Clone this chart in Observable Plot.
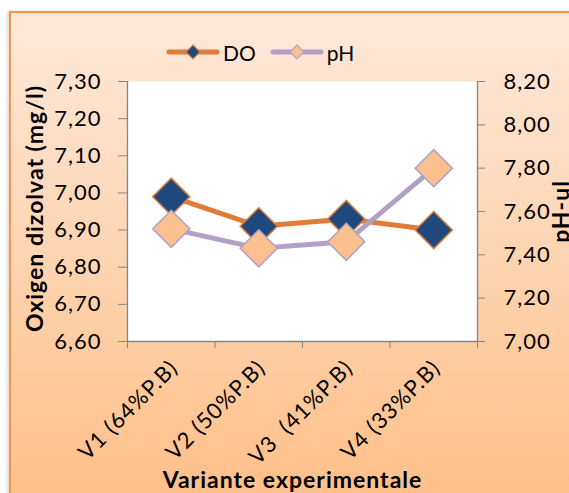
<!DOCTYPE html>
<html>
<head>
<meta charset="utf-8">
<script src="https://cdn.jsdelivr.net/npm/d3@7"></script>
<script src="https://cdn.jsdelivr.net/npm/@observablehq/plot@0.6"></script>
<style>
  html, body { margin: 0; padding: 0; width: 569px; height: 493px; overflow: hidden; background: #ffffff; }
  body { position: relative; font-family: Lato, "Open Sans", sans-serif; }
  #panel { position: absolute; left: 9px; top: 11px; width: 600px; height: 490px;
           border-left: 2px solid #f79646; border-top: 2px solid #f79646;
           background: linear-gradient(#fde9da, #ffbf88);
           box-shadow: -2px 0 3px rgba(0,0,0,0.15); }
  #legend { position: absolute; left: 166px; top: 40px; height: 24px; display: flex; align-items: center;
            font-size: 21px; color: #000; }
  #legend .item { display: flex; align-items: center; margin-right: 14px; }
  #legend svg { display: block; margin-right: 3px; }
  #chart { position: absolute; left: 0; top: 64px; }
  #chart svg text { white-space: pre; }
</style>
</head>
<body>
<div id="panel"></div>
<div id="legend"></div>
<div id="chart"></div>
<script>
// ---- data ----
const categories = ["V1 (64%P.B)", "V2 (50%P.B)", "V3  (41%P.B)", "V4 (33%P.B)"];
const doValues = [6.99, 6.91, 6.93, 6.90];
const phValues = [7.52, 7.43, 7.46, 7.80];
const seriesNames = ["DO", "pH"];
const doTicks = [6.6, 6.7, 6.8, 6.9, 7.0, 7.1, 7.2, 7.3];
const phTicks = [7.0, 7.2, 7.4, 7.6, 7.8, 8.0, 8.2];
const doDomain = [6.6, 7.3];
const phDomain = [7.0, 8.2];
const yTitleLeft = "Oxigen dizolvat (mg/l)";
const yTitleRight = "pH-ul";
const xTitle = "Variante experimentale";

// ---- styles ----
const lineColors = ["#e07b39", "#b2a1c7"];
const markerFill = ["#1f497d", "#fac090"];
const markerStroke = ["#e07b39", "#b2a1c7"];
const axisGray = "#868686";

const fmt = v => v.toFixed(2).replace(".", ",");
const phToY = d3.scaleLinear(phDomain, doDomain);

const doData = categories.map((c, i) => ({i: i + 0.5, v: doValues[i]}));
const phData = categories.map((c, i) => ({i: i + 0.5, v: phToY(phValues[i])}));

// ---- legend ----
const legend = document.getElementById("legend");
seriesNames.forEach((name, k) => {
  const item = document.createElement("div");
  item.className = "item";
  item.innerHTML =
    `<svg width="54" height="24" viewBox="0 0 54 24">
       <line x1="3" y1="12" x2="51" y2="12" stroke="${lineColors[k]}" stroke-width="5" stroke-linecap="round"/>
       <path d="M27 5 L34 12 L27 19 L20 12 Z" fill="${markerFill[k]}" stroke="${markerStroke[k]}" stroke-width="1.2"/>
     </svg><span>${name}</span>`;
  legend.appendChild(item);
});

// ---- chart ----
const n = categories.length;
const titleOpts = {fontWeight: "bold", fontSize: 23, textAnchor: "middle", lineAnchor: "middle"};
const chart = Plot.plot({
  width: 569,
  height: 429,
  marginTop: 17,
  marginBottom: 152,
  marginLeft: 127,
  marginRight: 92,
  style: {fontFamily: "Lato, 'Open Sans', sans-serif", fontSize: "22px", letterSpacing: "1px", color: "#000", background: "transparent", overflow: "visible"},
  x: {type: "linear", domain: [0, n]},
  y: {domain: doDomain},
  marks: [
    Plot.frame({fill: "white", stroke: "none"}),
    Plot.ruleX([0, n], {stroke: axisGray, strokeWidth: 1.3}),
    Plot.ruleY([doDomain[0]], {stroke: axisGray, strokeWidth: 1.3}),
    Plot.axisY({anchor: "left", ticks: doTicks, tickSize: 9, tickPadding: 17, stroke: axisGray,
                tickFormat: fmt, label: null}),
    Plot.axisY({anchor: "right", ticks: phTicks.map(phToY), tickSize: 7, tickPadding: 19, stroke: axisGray,
                tickFormat: v => fmt(phToY.invert(v)), label: null}),
    Plot.axisX({ticks: d3.range(0, n + 1), tickSize: 7, stroke: axisGray, tickFormat: () => "", label: null}),
    Plot.axisX({ticks: categories.map((c, i) => i + 0.5), tickSize: 0, tickRotate: -45, tickPadding: 23,
                tickFormat: v => categories[Math.floor(v)], label: null, dx: 3}),
    Plot.text([yTitleLeft], {frameAnchor: "left", rotate: -90, dx: -92, dy: -3, ...titleOpts}),
    Plot.text([yTitleRight], {frameAnchor: "right", rotate: -90, dx: 84, ...titleOpts}),
    Plot.text([xTitle], {frameAnchor: "bottom", dy: 139, dx: -10, ...titleOpts}),
    Plot.line(doData, {x: "i", y: "v", stroke: lineColors[0], strokeWidth: 5}),
    Plot.dot(doData, {x: "i", y: "v", symbol: "square", rotate: 45, r: 14.8, fill: markerFill[0], stroke: markerStroke[0], strokeWidth: 1.5}),
    Plot.line(phData, {x: "i", y: "v", stroke: lineColors[1], strokeWidth: 5}),
    Plot.dot(phData, {x: "i", y: "v", symbol: "square", rotate: 45, r: 14.8, fill: markerFill[1], stroke: markerStroke[1], strokeWidth: 1.5})
  ]
});
document.getElementById("chart").appendChild(chart);
</script>
</body>
</html>
